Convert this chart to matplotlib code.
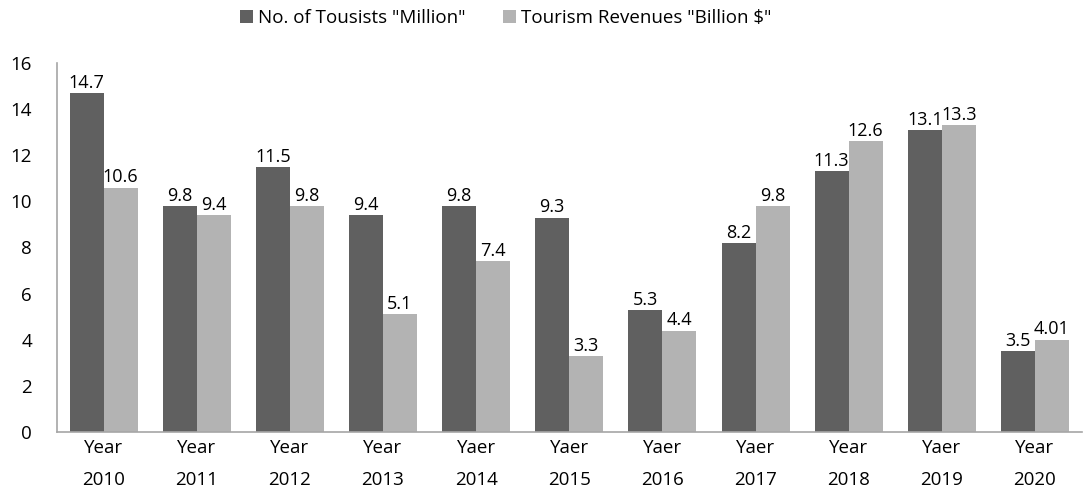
import matplotlib.pyplot as plt
import numpy as np

plt.rcParams['font.family'] = ['Open Sans', 'DejaVu Sans']

labels = ["Year\n2010", "Year\n2011", "Year\n2012", "Year\n2013", "Yaer\n2014", "Yaer\n2015",
          "Yaer\n2016", "Yaer\n2017", "Year\n2018", "Yaer\n2019", "Year\n2020"]
tourists = [14.7, 9.8, 11.5, 9.4, 9.8, 9.3, 5.3, 8.2, 11.3, 13.1, 3.5]
revenues = [10.6, 9.4, 9.8, 5.1, 7.4, 3.3, 4.4, 9.8, 12.6, 13.3, 4.01]
tourist_txt = ["14.7", "9.8", "11.5", "9.4", "9.8", "9.3", "5.3", "8.2", "11.3", "13.1", "3.5"]
revenue_txt = ["10.6", "9.4", "9.8", "5.1", "7.4", "3.3", "4.4", "9.8", "12.6", "13.3", "4.01"]

fs = 13.5
fig = plt.figure(figsize=(10.87, 5.0), dpi=100)
ax = fig.add_axes([0.0524, 0.136, 0.9426, 0.738])

x = np.arange(len(labels))
w = 0.365
b1 = ax.bar(x - w/2, tourists, w, color='#606060', label='No. of Tousists "Million"')
b2 = ax.bar(x + w/2, revenues, w, color='#b3b3b3', label='Tourism Revenues "Billion $"')

# value labels above bars
for rect, t in zip(b1, tourist_txt):
    ax.text(rect.get_x() + rect.get_width()/2, rect.get_height() + 0.05, t,
            ha='center', va='bottom', fontsize=13)
for rect, t in zip(b2, revenue_txt):
    ax.text(rect.get_x() + rect.get_width()/2, rect.get_height() + 0.05, t,
            ha='center', va='bottom', fontsize=13)

ax.set_xlim(-0.5, len(labels) - 0.5)
ax.set_ylim(0, 16)
ax.set_yticks(range(0, 17, 2))
ax.set_xticks(x)
ax.set_xticklabels(labels, fontsize=fs, linespacing=2.0)
ax.tick_params(axis='y', labelsize=fs, length=0, pad=18)
ax.tick_params(axis='x', length=0, pad=5)
for s in ['top', 'right']:
    ax.spines[s].set_visible(False)
for s in ['left', 'bottom']:
    ax.spines[s].set_color('#a6a6a6')
    ax.spines[s].set_linewidth(1.2)

fig.legend(loc='upper center', bbox_to_anchor=(0.465, 1.015), ncol=2, frameon=False,
           fontsize=fs, handlelength=0.7, handleheight=0.7, handletextpad=0.25,
           columnspacing=2.0)

fig.savefig('out.png', dpi=100)
